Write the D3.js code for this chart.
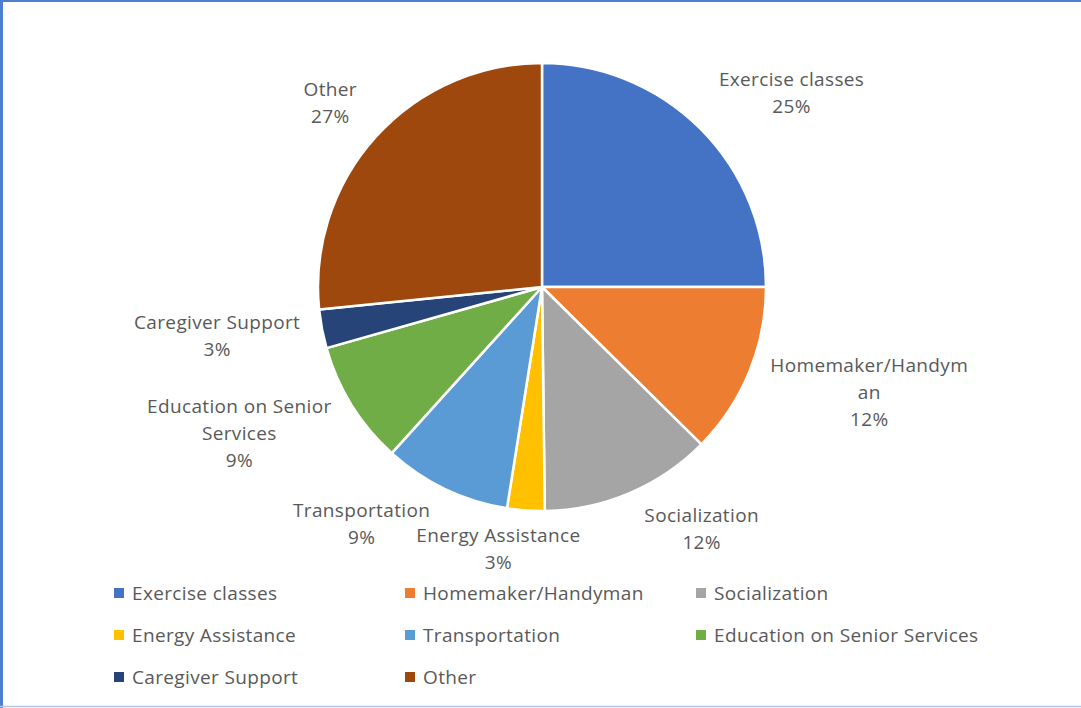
<!DOCTYPE html>
<html lang="en">
<head>
    <meta charset="UTF-8">
    <title>Senior services pie</title>
    <script src="https://d3js.org/d3.v7.js"></script>
    <style>
        body { margin: 0; background: #fff; }
        text { font-family: "Open Sans", "Noto Sans", sans-serif; fill: #595959; letter-spacing: 0.35px; }
    </style>
</head>
<body>
<svg></svg>
<script>
    // data
    let categories = ["Exercise classes", "Homemaker/Handyman", "Socialization", "Energy Assistance",
        "Transportation", "Education on Senior Services", "Caregiver Support", "Other"];
    let shares = [25, 12.4, 12.4, 2.7, 9.2, 8.9, 2.8, 26.6];
    let colors = ["#4472C4", "#ED7D31", "#A5A5A5", "#FFC000", "#5B9BD5", "#70AD47", "#264478", "#9E480E"];

    let data = categories.map((c, i) => ({name: c, share: shares[i]}));

    let width = 1081;
    let height = 708;
    let radius = 224;
    let cx = 542, cy = 287;
    let lineH = 27;
    let fontSize = "19px";
    let maxLabelW = 204;

    let svg = d3.select("svg")
        .attr("width", width)
        .attr("height", height);

    // frame
    svg.append("line").attr("x1", 0).attr("x2", width).attr("y1", 1).attr("y2", 1)
        .attr("stroke", "#4f7fd0").attr("stroke-width", 2);
    svg.append("line").attr("x1", 1.5).attr("x2", 1.5).attr("y1", 0).attr("y2", height)
        .attr("stroke", "#4f7fd0").attr("stroke-width", 3);
    svg.append("line").attr("x1", 0).attr("x2", width).attr("y1", 706.5).attr("y2", 706.5)
        .attr("stroke", "#b4c7e7").attr("stroke-width", 1.5);

    let color = d3.scaleOrdinal().domain(categories).range(colors);
    let total = d3.sum(shares);

    let pie = d3.pie().sort(null).value(d => d.share);
    let pieData = pie(data);

    let arc = d3.arc().innerRadius(0).outerRadius(radius);

    let g = svg.append("g").attr("transform", "translate(" + cx + "," + cy + ")");

    g.selectAll("path.slice").data(pieData)
        .enter()
        .append("path")
        .attr("class", "slice")
        .attr("d", arc)
        .style("fill", d => color(d.data.name))
        .style("stroke", "#fff")
        .style("stroke-width", 2.5)
        .style("stroke-linejoin", "round");

    // wrap a label into lines no wider than maxLabelW (breaks long words too)
    function wrapLines(str, measure) {
        let words = str.split(" ");
        let lines = [];
        let cur = "";
        words.forEach(w => {
            let tryStr = cur ? cur + " " + w : w;
            if (measure(tryStr) <= maxLabelW) {
                cur = tryStr;
            } else {
                if (cur) lines.push(cur);
                cur = w;
                while (measure(cur) > maxLabelW) {
                    let k = cur.length;
                    while (k > 1 && measure(cur.slice(0, k)) > maxLabelW) k--;
                    lines.push(cur.slice(0, k));
                    cur = cur.slice(k);
                }
            }
        });
        if (cur) lines.push(cur);
        return lines;
    }

    let probe = svg.append("text").style("font-size", fontSize);
    function measure(s) {
        probe.text(s);
        return probe.node().getComputedTextLength();
    }

    let labelR = radius + 12;
    pieData.forEach(d => {
        let a = (d.startAngle + d.endAngle) / 2;
        let s = Math.sin(a), c = Math.cos(a);
        let lines = wrapLines(d.data.name, measure);
        lines.push(Math.round(d.data.share / total * 100) + "%");
        let w = d3.max(lines, measure);
        let h = lines.length * lineH;
        let px = labelR * s, py = -labelR * c;
        let ox = Math.sign(s) * (w / 2 + 10) * Math.min(1, Math.abs(s) * 4);
        let oy = -c * h / 2 - (c > 0 ? 12 * c : 0);
        let lx = px + ox, ly = py + oy;
        let t = g.append("text")
            .attr("text-anchor", "middle")
            .style("font-size", fontSize);
        lines.forEach((ln, i) => {
            t.append("tspan")
                .attr("x", lx)
                .attr("y", ly - h / 2 + lineH * i + lineH / 2)
                .attr("dy", "0.35em")
                .text(ln);
        });
    });
    probe.remove();

    // legend
    let legX = d3.scaleBand().domain([0, 1, 2]).range([114, 114 + 291 * 3]);
    let legY = d3.scaleBand().domain([0, 1, 2]).range([572, 572 + 42 * 3]);

    let leg = svg.selectAll("g.legend").data(categories)
        .enter()
        .append("g")
        .attr("class", "legend")
        .attr("transform", (d, i) => "translate(" + legX(i % 3) + "," + (legY(Math.floor(i / 3)) + 21) + ")");

    leg.append("rect")
        .attr("x", 0)
        .attr("y", -5)
        .attr("width", 10)
        .attr("height", 10)
        .style("fill", d => color(d));

    leg.append("text")
        .attr("x", 18)
        .attr("dy", "0.35em")
        .style("font-size", fontSize)
        .text(d => d);
</script>
</body>
</html>
